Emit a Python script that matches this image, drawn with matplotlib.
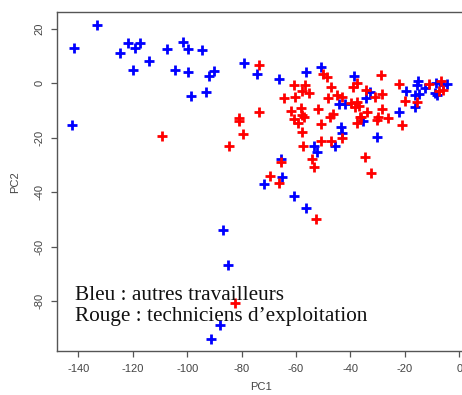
import matplotlib
matplotlib.use("Agg")
import matplotlib.pyplot as plt

# PCA scores
blue_x = [-133.1, -141.6, -124.6, -121.7, -119.2, -117.4, -114.0, -119.9, -107.5, -101.6,
          -99.7, -104.5, -99.6, -94.7, -91.9, -90.1, -93.1, -98.6, -79.0, -74.4,
          -66.4, -56.5, -50.8, -38.7, -34.4, -44.1, -41.9, -35.2, -43.5, -43.0,
          -45.8, -53.4, -52.2, -30.1, -32.8, -19.5, -15.7, -15.2, -8.6, -4.5,
          -5.9, -12.5, -16.3, -14.9, -8.9, -8.3, -16.3, -22.1, -65.6, -65.1,
          -71.7, -60.7, -56.4, -86.8, -85.1, -88.0, -91.4, -142.5]
blue_y = [21.3, 12.9, 11.2, 14.7, 13.1, 14.9, 8.2, 4.8, 12.5, 15.2,
          12.5, 4.8, 4.3, 12.2, 2.7, 4.4, -3.1, -4.6, 7.4, 3.3,
          1.7, 4.2, 6.0, 2.7, -5.4, -7.7, -7.7, -13.8, -16.0, -18.2,
          -22.9, -23.1, -25.4, -19.7, -3.1, -2.7, -0.6, 0.7, 0.2, -0.4,
          -0.6, -1.8, -4.3, -3.9, -3.7, -4.3, -8.8, -10.6, -27.8, -34.4,
          -37.1, -41.4, -46.0, -53.9, -66.8, -88.9, -94.1, -15.4]

red_x = [-73.5, -73.5, -80.9, -81.0, -109.3, -79.5, -84.7, -60.8, -56.7, -57.9,
         -55.1, -64.3, -60.4, -61.8, -58.3, -57.7, -57.2, -60.7, -59.4, -57.9,
         -57.6, -54.2, -53.3, -65.4, -69.7, -66.4, -52.8, -82.6, -50.2, -48.5,
         -37.7, -39.2, -34.3, -47.1, -48.4, -45.1, -43.1, -37.7, -36.9, -38.3,
         -39.9, -37.5, -36.5, -52.1, -46.3, -47.5, -50.7, -43.2, -50.8, -47.3,
         -34.7, -32.6, -28.7, -28.5, -30.9, -22.1, -11.0, -6.6, -7.4, -5.9,
         -20.0, -15.7, -21.2, -28.5, -29.8, -30.1, -26.1, -34.0, -36.1]
red_y = [6.7, -10.7, -12.9, -14.0, -19.5, -18.5, -23.1, -0.7, -0.5, -2.9,
         -3.5, -5.3, -5.1, -10.1, -9.2, -11.8, -12.3, -13.1, -14.7, -17.8,
         -23.1, -27.8, -30.7, -28.8, -34.0, -36.8, -50.0, -80.7, 3.3, 2.3,
         0.2, -1.2, -2.5, -1.5, -5.3, -4.3, -5.0, -6.8, -8.2, -8.8,
         -7.4, -14.7, -12.3, -9.4, -11.4, -12.3, -15.0, -20.2, -21.2, -21.1,
         -27.2, -33.1, 3.1, -4.0, -5.2, -0.4, -0.1, 0.8, -2.7, -2.5,
         -6.5, -7.0, -15.4, -9.6, -12.3, -13.5, -12.6, -10.4, -12.5]

xticks = [-140, -120, -100, -80, -60, -40, -20, 0]
yticks = [20, 0, -20, -40, -60, -80]

plt.rcParams['font.family'] = 'Liberation Sans'
plt.rcParams['axes.unicode_minus'] = False

fig = plt.figure(figsize=(4.62, 3.95), dpi=100)
# plotting region runs past the right edge, as in the reference
ax = fig.add_axes([56.7 / 462, 1 - 351.3 / 395, (466 - 56.7) / 462, (351.3 - 12.3) / 395])

ax.plot(blue_x, blue_y, linestyle='none', marker='+', color='#0000ff', ms=7.5, mew=2.0)
ax.plot(red_x, red_y, linestyle='none', marker='+', color='#ff0000', ms=7.5, mew=2.0)

ax.set_xlim(-148, 2.5)
ax.set_ylim(-98.5, 26.1)
ax.set_xticks(xticks)
ax.set_yticks(yticks)
ax.set_yticklabels([str(t) for t in yticks], rotation=90, va='center')

for s in ax.spines.values():
    s.set_color('#555555')
    s.set_linewidth(1.0)
ax.tick_params(direction='out', length=4, width=0.9, color='#555555',
               labelsize=8, labelcolor='#444444', pad=5)

ax.set_xlabel('PC1', fontsize=8, color='#444444', labelpad=6)
ax.set_ylabel('PC2', fontsize=8, color='#444444', labelpad=10)

ax.text(-141.3, -81.8, "Bleu : autres travailleurs\nRouge : techniciens d\u2019exploitation",
        family='Liberation Serif', fontsize=15.3, color='#111111',
        va='center', ha='left', linespacing=1.12)

fig.savefig('out.png', dpi=100)
